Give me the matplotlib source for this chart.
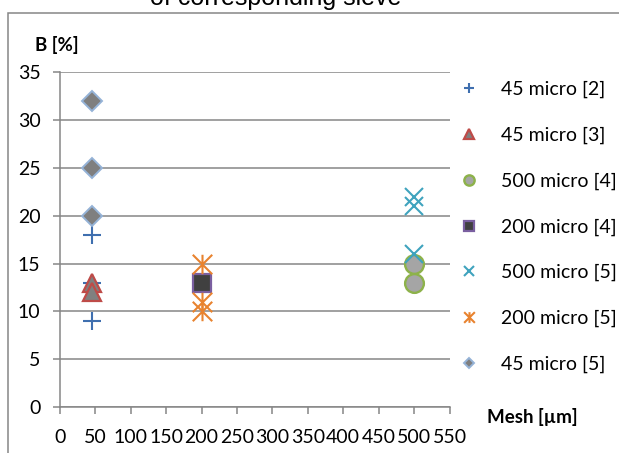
import matplotlib
matplotlib.use("Agg")
import matplotlib.pyplot as plt
from matplotlib.path import Path
from matplotlib.patches import Rectangle

plt.rcParams['font.family'] = ['Lato', 'DejaVu Sans']

# data
mesh_45 = 45
mesh_200 = 200
mesh_500 = 500

b_45_ref2 = [18, 13, 9]
b_45_ref3 = [13, 12]
b_500_ref4 = [15, 13]
b_200_ref4 = [13]
b_500_ref5 = [22, 21, 16]
b_200_ref5 = [15, 11, 10]
b_45_ref5 = [32, 25, 20]

labels = ['45 micro [2]', '45 micro [3]', '500 micro [4]', '200 micro [4]',
          '500 micro [5]', '200 micro [5]', '45 micro [5]']

x_ticks = list(range(0, 551, 50))
y_ticks = list(range(0, 36, 5))

# excel style "star": an x with a vertical bar through it
star = Path([(-1, -1), (1, 1), (-1, 1), (1, -1), (0, -1), (0, 1)],
            [Path.MOVETO, Path.LINETO, Path.MOVETO, Path.LINETO, Path.MOVETO, Path.LINETO])

fig = plt.figure(figsize=(6.19, 4.53), dpi=100)
ax = fig.add_axes([0.0969, 0.1015, 0.6293, 0.7389])

grid_col = '#868686'
fs = 14

series = [
    (mesh_45, b_45_ref2, dict(marker='+', ms=13, mew=1.5, color='#3F6FAF', ls='none')),
    (mesh_45, b_45_ref3, dict(marker='^', ms=13.5, mew=1.6, mfc='#808080', mec='#BE4B48', ls='none')),
    (mesh_500, b_500_ref4, dict(marker='o', ms=13.5, mew=1.7, mfc='#A5A5A5', mec='#8DB24A', ls='none')),
    (mesh_200, b_200_ref4, dict(marker='s', ms=13.5, mew=1.6, mfc='#404040', mec='#7A5FA0', ls='none')),
    (mesh_500, b_500_ref5, dict(marker='x', ms=13.5, mew=1.5, color='#3FA3BE', ls='none')),
    (mesh_200, b_200_ref5, dict(marker=star, ms=14, mew=1.5, color='#E8832F', ls='none')),
    (mesh_45, b_45_ref5, dict(marker='D', ms=9.8, mew=1.4, mfc='#7F7F7F', mec='#95B3D7', ls='none')),
]
for (xv, ys, kw), lab in zip(series, labels):
    ax.plot([xv] * len(ys), ys, label=lab, zorder=3, **kw)

ax.set_xlim(0, 550)
ax.set_ylim(0, 35)
ax.set_xticks(x_ticks)
ax.set_yticks(y_ticks)
ax.yaxis.grid(True, color=grid_col, lw=1.1)
ax.set_axisbelow(True)
for s in ['top', 'right']:
    ax.spines[s].set_visible(False)
for s in ['left', 'bottom']:
    ax.spines[s].set_color(grid_col)
    ax.spines[s].set_linewidth(1.1)
ax.tick_params(axis='both', colors=grid_col, labelcolor='black', labelsize=fs, length=5, width=1.1)
ax.tick_params(axis='y', pad=9)
ax.tick_params(axis='x', pad=11)

fig.text(0.057, 0.900, 'B [%]', fontsize=fs - 0.5, fontweight='bold', va='center', ha='left')
fig.text(0.787, 0.079, 'Mesh [µm]', fontsize=fs - 0.5, fontweight='bold', va='center', ha='left')

# cut-off chart title above the frame
fig.text(0.445, 0.989, 'of corresponding sieve', fontsize=18, family='Liberation Sans',
         ha='center', va='baseline')

# chart area border
fig.patches.append(Rectangle((8 / 619, -0.1), 1.2, 1 - 13 / 453 + 0.1,
                             transform=fig.transFigure, fill=False,
                             edgecolor=grid_col, lw=1.1))

leg = ax.legend(loc='upper left', bbox_to_anchor=(0.742, 0.821), bbox_transform=fig.transFigure,
                frameon=False, fontsize=fs, markerscale=0.55, handlelength=1.0,
                handletextpad=1.15, labelspacing=1.46, borderaxespad=0, borderpad=0)

fig.savefig('out.png', dpi=100)
